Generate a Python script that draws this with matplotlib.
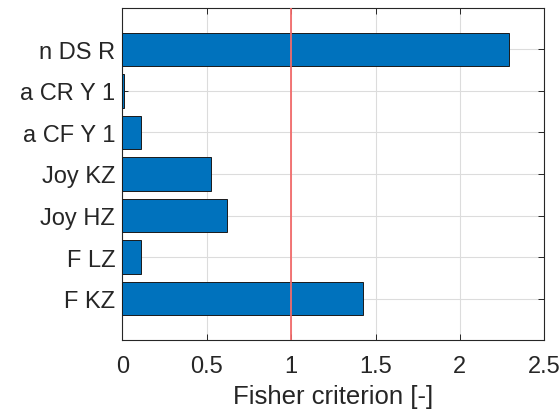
import matplotlib
matplotlib.use('Agg')
import matplotlib.pyplot as plt
import numpy as np

labels = ['F KZ', 'F LZ', 'Joy HZ', 'Joy KZ', 'a CF Y 1', 'a CR Y 1', 'n DS R']
fisher = [1.424, 0.113, 0.620, 0.527, 0.109, 0.012, 2.293]
threshold = 1.0

plt.rcParams['font.family'] = ['Liberation Sans', 'DejaVu Sans']

fig = plt.figure(figsize=(5.6, 4.14), dpi=100)
ax = fig.add_axes([0.2184, 0.1763, 0.972 - 0.2184, 0.9783 - 0.1763])

y = np.arange(1, len(labels) + 1)
ax.barh(y, fisher, height=0.8, color='#0072BD', edgecolor='#1a1a1a', linewidth=0.7, zorder=3)
ax.axvline(threshold, color='#f26b6b', linewidth=1.3, zorder=4)

ax.set_xlim(0, 2.5)
ax.set_ylim(0, len(labels) + 1)
ax.set_xticks([0, 0.5, 1, 1.5, 2, 2.5], ['0', '0.5', '1', '1.5', '2', '2.5'])
ax.set_yticks(y, labels)
ax.set_xlabel('Fisher criterion [-]', fontsize=18.5, color='#262626', labelpad=5)

ax.grid(True, color='#dcdcdc', linewidth=0.8, zorder=0)
ax.set_axisbelow(True)
ax.tick_params(direction='in', top=True, right=True, length=4, width=0.7,
               labelsize=17, colors='#262626')
ax.tick_params(axis='x', pad=11)
ax.tick_params(axis='y', pad=5)
for s in ax.spines.values():
    s.set_color('#262626')
    s.set_linewidth(0.8)

fig.savefig('out.png', dpi=100)
